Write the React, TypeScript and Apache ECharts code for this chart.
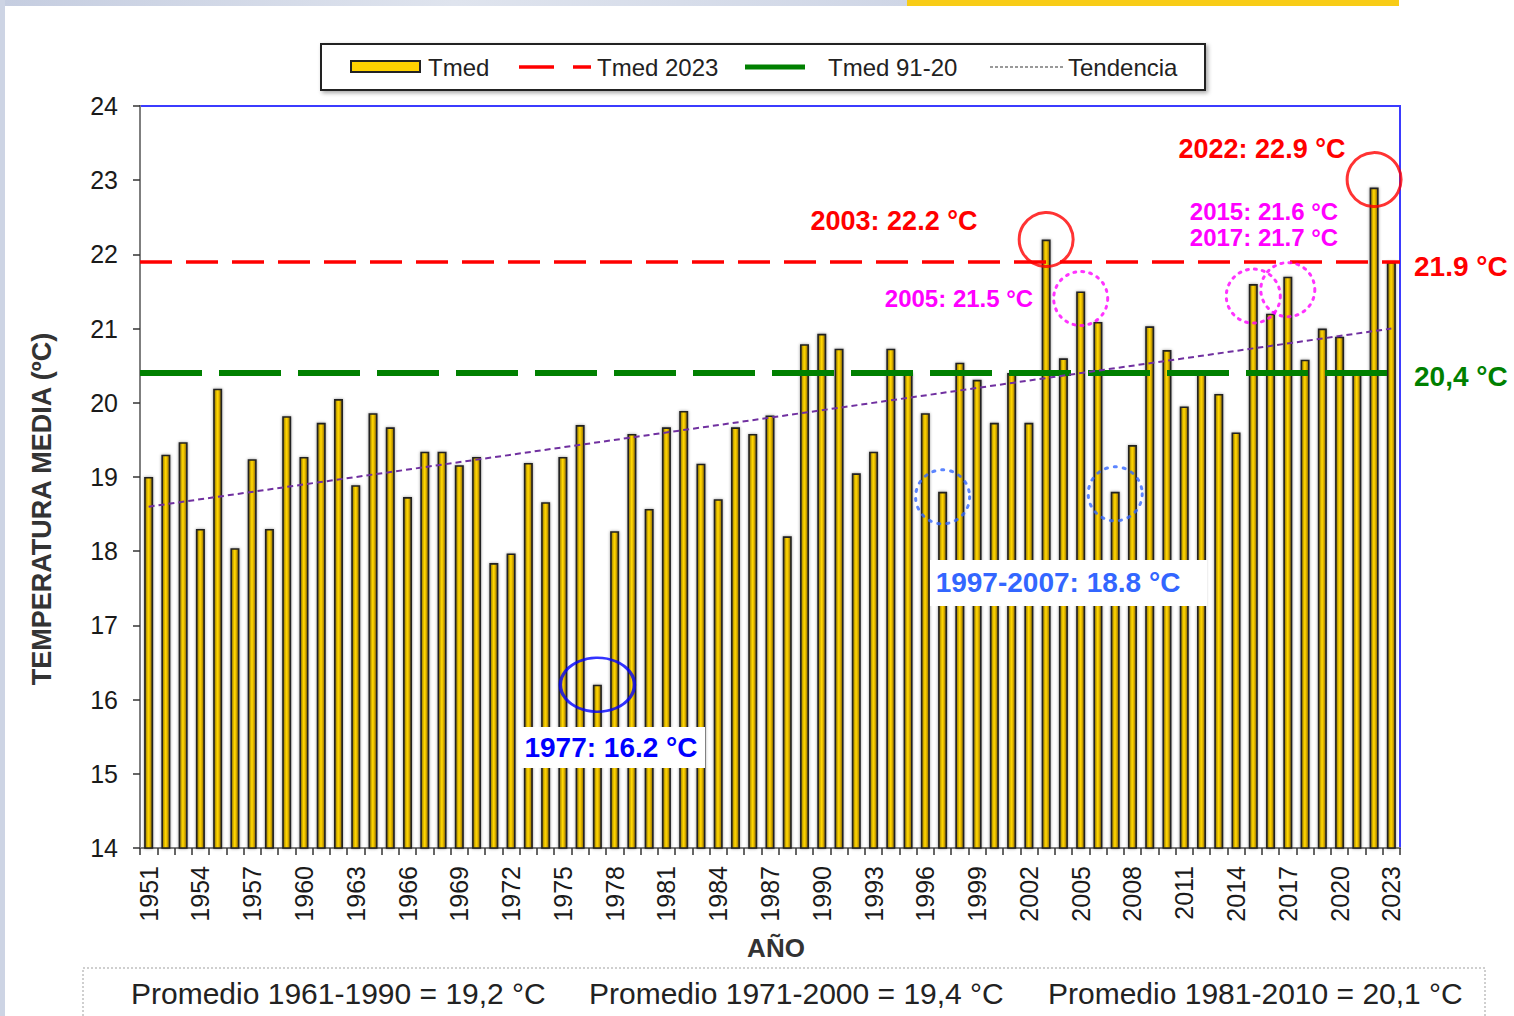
import React, { useEffect, useRef } from "react";
import * as echarts from "echarts";

const years = [
  "1951","1952","1953","1954","1955","1956","1957","1958","1959","1960",
  "1961","1962","1963","1964","1965","1966","1967","1968","1969","1970",
  "1971","1972","1973","1974","1975","1976","1977","1978","1979","1980",
  "1981","1982","1983","1984","1985","1986","1987","1988","1989","1990",
  "1991","1992","1993","1994","1995","1996","1997","1998","1999","2000",
  "2001","2002","2003","2004","2005","2006","2007","2008","2009","2010",
  "2011","2012","2013","2014","2015","2016","2017","2018","2019","2020",
  "2021","2022","2023",
];

const tmed = [
  19.0, 19.3, 19.47, 18.3, 20.19, 18.04, 19.24, 18.3, 19.82, 19.27,
  19.73, 20.05, 18.89, 19.86, 19.67, 18.73, 19.34, 19.34, 19.16, 19.27,
  17.84, 17.97, 19.19, 18.66, 19.27, 19.7, 16.2, 18.27, 19.58, 18.57,
  19.67, 19.89, 19.18, 18.7, 19.67, 19.58, 19.83, 18.2, 20.79, 20.93,
  20.73, 19.05, 19.34, 20.73, 20.4, 19.86, 18.8, 20.54, 20.31, 19.73,
  20.4, 19.73, 22.2, 20.6, 21.5, 21.09, 18.8, 19.43, 21.03, 20.71,
  19.95, 20.4, 20.12, 19.6, 21.6, 21.2, 21.7, 20.58, 21.0, 20.89,
  20.4, 22.9, 21.9,
];

const tmed2023 = 21.9;
const tmed9120 = 20.4;
const trendPoints = [["1951", 18.6], ["2023", 21.0]];

const redCircles = [["2003", 22.2], ["2022", 22.9]];
const redOffsets = [[0, 0], [0, -8]];
const blueEllipse = [["1977", 16.2]];
const magentaCircles = [["2005", 21.5], ["2015", 21.6], ["2017", 21.7]];
const magentaOffsets = [[0, 7], [0, 12], [0, 13]];
const blueDotCircles = [["1997", 18.8], ["2007", 18.8]];
const blueDotOffsets = [[0, 5], [0, 2]];

const legendLabels = ["Tmed", "Tmed 2023", "Tmed 91-20", "Tendencia"];
const averages = [
  "Promedio 1961-1990 = 19,2 °C",
  "Promedio 1971-2000 = 19,4 °C",
  "Promedio 1981-2010 = 20,1 °C",
];
const yTitle = "TEMPERATURA MEDIA (ºC)";
const xTitle = "AÑO";

const FONT = "'Liberation Sans', Arial, sans-serif";

export default function App() {
  const ref = useRef<HTMLDivElement>(null);

  useEffect(() => {
    if (!ref.current) return;
    const chart = echarts.init(ref.current, null, { renderer: "svg" });

    const barGradient = new echarts.graphic.LinearGradient(0, 0, 1, 0, [
      { offset: 0, color: "#8f6f00" },
      { offset: 0.45, color: "#ffd800" },
      { offset: 0.6, color: "#f0c200" },
      { offset: 1, color: "#846300" },
    ]);

    const txt = (
      text: string,
      x: number,
      y: number,
      size: number,
      color: string,
      bold: boolean,
      align: string = "center"
    ) => ({
      type: "text",
      x,
      y,
      z: 100,
      style: {
        text,
        fill: color,
        font: `${bold ? "bold " : ""}${size}px ${FONT}`,
        align,
        verticalAlign: "middle",
      },
    });

    const scatterBase = (name: string, pts: any[], offsets: any[] | null, color: string, size: any, dash: any) => ({
      type: "scatter",
      name,
      z: 20,
      silent: true,
      symbol: "circle",
      symbolSize: size,
      data: pts.map((p, i) => ({
        value: p,
        symbolOffset: offsets ? offsets[i] : [0, 0],
      })),
      itemStyle: {
        color: "rgba(0,0,0,0)",
        borderColor: color,
        borderWidth: 3,
        borderType: dash,
        borderCap: "round",
      },
    });

    const option: any = {
      animation: false,
      backgroundColor: "#ffffff",
      grid: {
        left: 140,
        right: 114,
        top: 106,
        bottom: 168,
        show: true,
        borderColor: "#3b3bff",
        borderWidth: 2,
        backgroundColor: "rgba(0,0,0,0)",
      },
      xAxis: {
        type: "category",
        data: years,
        boundaryGap: true,
        axisLine: { lineStyle: { color: "#7f7f7f", width: 2 } },
        axisTick: { show: true, interval: 0, length: 7, lineStyle: { color: "#333", width: 1.5 } },
        axisLabel: {
          interval: 2,
          rotate: 90,
          fontSize: 25,
          color: "#1a1a1a",
          margin: 18,
          fontFamily: FONT,
        },
      },
      yAxis: {
        type: "value",
        min: 14,
        max: 24,
        interval: 1,
        splitLine: { show: false },
        axisLine: { show: true, lineStyle: { color: "#7f7f7f", width: 2 } },
        axisTick: { show: true, length: 7, lineStyle: { color: "#333", width: 1.5 } },
        axisLabel: { fontSize: 25, color: "#1a1a1a", margin: 22, fontFamily: FONT },
      },
      series: [
        {
          type: "bar",
          name: legendLabels[0],
          data: tmed,
          barWidth: 9,
          z: 2,
          itemStyle: {
            color: barGradient,
            borderColor: "#222",
            borderWidth: 1.6,
            shadowBlur: 3,
            shadowColor: "rgba(0,0,0,0.4)",
          },
        },
        {
          type: "line",
          name: legendLabels[2],
          data: [],
          z: 5,
          markLine: {
            silent: true,
            symbol: "none",
            label: { show: false },
            lineStyle: { color: "#008000", width: 6, type: [62, 17] },
            data: [{ yAxis: tmed9120 }],
          },
        },
        {
          type: "line",
          name: legendLabels[1],
          data: [],
          z: 5,
          markLine: {
            silent: true,
            symbol: "none",
            label: { show: false },
            lineStyle: { color: "#ff0000", width: 3.5, type: [32, 14] },
            data: [{ yAxis: tmed2023 }],
          },
        },
        {
          type: "line",
          name: legendLabels[3],
          data: trendPoints,
          z: 6,
          showSymbol: false,
          silent: true,
          lineStyle: { color: "#7030a0", width: 2, type: [6, 4] },
        },
        scatterBase("rc", redCircles, redOffsets, "#ff0000", 54, "solid"),
        scatterBase("be", blueEllipse, null, "#0000ff", [74, 54], "solid"),
        scatterBase("mc", magentaCircles, magentaOffsets, "#ff00ff", 54, [2, 6]),
        scatterBase("bd", blueDotCircles, blueDotOffsets, "#3366ff", 54, [2, 7]),
      ],
      graphic: [
        {
          type: "rect",
          shape: { x: 0, y: 0, width: 907, height: 6 },
          style: {
            fill: new echarts.graphic.LinearGradient(0, 0, 1, 0, [
              { offset: 0, color: "#c5cde0" },
              { offset: 0.5, color: "#dfe4ee" },
              { offset: 1, color: "#cfd6e6" },
            ]),
          },
          z: 1,
        },
        { type: "rect", shape: { x: 907, y: 0, width: 492, height: 6 }, style: { fill: "#f8cc16" }, z: 1 },
        { type: "rect", shape: { x: 0, y: 0, width: 5, height: 1016 }, style: { fill: "#cdd4e4" }, z: 1 },
        {
          type: "rect",
          shape: { x: 321, y: 44, width: 884, height: 46 },
          style: {
            fill: "#fff",
            stroke: "#222",
            lineWidth: 2,
            shadowBlur: 4,
            shadowOffsetX: 2,
            shadowOffsetY: 2,
            shadowColor: "rgba(0,0,0,0.35)",
          },
          z: 50,
        },
        {
          type: "rect",
          shape: { x: 351, y: 61, width: 69, height: 11 },
          style: { fill: "#ffd200", stroke: "#222", lineWidth: 2 },
          z: 51,
        },
        txt(legendLabels[0], 428, 67, 24, "#222", false, "left"),
        {
          type: "line",
          shape: { x1: 519, y1: 67, x2: 591, y2: 67 },
          style: { stroke: "#ff0000", lineWidth: 3.5, lineDash: [35, 19] },
          z: 51,
        },
        txt(legendLabels[1], 597, 67, 24, "#222", false, "left"),
        {
          type: "line",
          shape: { x1: 745, y1: 67, x2: 805, y2: 67 },
          style: { stroke: "#008000", lineWidth: 5 },
          z: 51,
        },
        txt(legendLabels[2], 828, 67, 24, "#222", false, "left"),
        {
          type: "line",
          shape: { x1: 990, y1: 67, x2: 1064, y2: 67 },
          style: { stroke: "#999", lineWidth: 2, lineDash: [3, 2] },
          z: 51,
        },
        txt(legendLabels[3], 1068, 67, 24, "#222", false, "left"),
        { type: "rect", shape: { x: 520, y: 727, width: 185, height: 41 }, style: { fill: "#fff" }, z: 90 },
        { type: "rect", shape: { x: 930, y: 560, width: 277, height: 46 }, style: { fill: "#fff" }, z: 90 },
        txt("1977: 16.2 °C", 611, 747, 28, "#0000ff", true),
        txt("1997-2007: 18.8 °C", 1058, 582, 28, "#3366ff", true),
        txt("2003: 22.2 °C", 894, 221, 27, "#ff0000", true),
        txt("2022: 22.9 °C", 1262, 149, 27, "#ff0000", true),
        txt("2015: 21.6 °C", 1264, 211, 24, "#ff00ff", true),
        txt("2017: 21.7 °C", 1264, 237, 24, "#ff00ff", true),
        txt("2005: 21.5 °C", 959, 298, 24, "#ff00ff", true),
        txt("21.9 °C", 1414, 266, 28, "#ff0000", true, "left"),
        txt("20,4 °C", 1414, 376, 28, "#008000", true, "left"),
        {
          type: "text",
          x: 42,
          y: 509,
          rotation: Math.PI / 2,
          z: 100,
          style: {
            text: yTitle,
            fill: "#333",
            font: `bold 27px ${FONT}`,
            align: "center",
            verticalAlign: "middle",
          },
        },
        txt(xTitle, 776, 948, 26, "#333", true),
        {
          type: "rect",
          shape: { x: 83, y: 968, width: 1402, height: 60 },
          style: { fill: "#fff", stroke: "#c0c0c0", lineWidth: 1.5, lineDash: [2, 2] },
          z: 50,
        },
        txt(averages[0], 131, 993, 30, "#222", false, "left"),
        txt(averages[1], 589, 993, 30, "#222", false, "left"),
        txt(averages[2], 1048, 993, 30, "#222", false, "left"),
      ],
    };

    chart.setOption(option);
    return () => chart.dispose();
  }, []);

  return (
    <div
      ref={ref}
      style={{ position: "absolute", left: 0, top: 0, width: 1514, height: 1016, background: "#fff" }}
    />
  );
}
